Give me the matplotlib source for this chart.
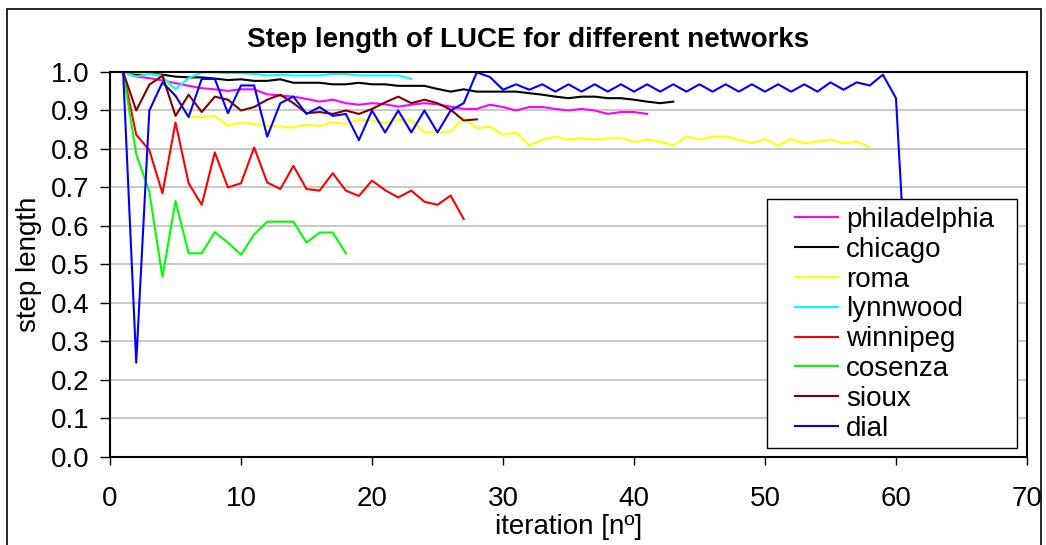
import numpy as np
import matplotlib
matplotlib.use('Agg')
import matplotlib.pyplot as plt
from matplotlib.patches import Rectangle

plt.rcParams['font.family'] = ['Liberation Sans', 'DejaVu Sans']

# step length per iteration (iteration 1, 2, ...)
philadelphia = [1.0, 0.988, 0.984, 0.978, 0.971, 0.964, 0.958, 0.955, 0.951, 0.955,
                0.955, 0.942, 0.939, 0.936, 0.930, 0.923, 0.928, 0.919, 0.915, 0.919,
                0.916, 0.910, 0.915, 0.919, 0.916, 0.910, 0.904, 0.904, 0.915, 0.909,
                0.900, 0.909, 0.909, 0.904, 0.900, 0.904, 0.900, 0.891, 0.896, 0.896,
                0.891]
chicago = [1.0, 0.993, 0.995, 0.993, 0.988, 0.986, 0.986, 0.983, 0.979, 0.981,
           0.977, 0.977, 0.981, 0.972, 0.972, 0.972, 0.968, 0.968, 0.972, 0.968,
           0.968, 0.964, 0.964, 0.964, 0.956, 0.949, 0.955, 0.949, 0.949, 0.949,
           0.949, 0.945, 0.941, 0.936, 0.932, 0.936, 0.936, 0.932, 0.932, 0.928,
           0.923, 0.919, 0.923]
roma = [1.0, 0.998, 0.995, 0.990, 0.940, 0.883, 0.883, 0.886, 0.860, 0.869,
        0.865, 0.860, 0.858, 0.856, 0.863, 0.860, 0.869, 0.865, 0.876, 0.874,
        0.867, 0.876, 0.874, 0.843, 0.843, 0.845, 0.880, 0.854, 0.858, 0.837,
        0.843, 0.809, 0.824, 0.832, 0.824, 0.828, 0.824, 0.828, 0.828, 0.819,
        0.824, 0.819, 0.809, 0.832, 0.824, 0.832, 0.832, 0.824, 0.815, 0.826,
        0.809, 0.826, 0.815, 0.819, 0.824, 0.815, 0.819, 0.805]
lynnwood = [1.0, 0.988, 0.995, 0.988, 0.955, 0.984, 0.999, 0.999, 0.997, 0.997,
            0.995, 0.991, 0.993, 0.991, 0.991, 0.991, 0.995, 0.995, 0.991, 0.991,
            0.991, 0.991, 0.982]
winnipeg = [1.0, 0.837, 0.797, 0.685, 0.869, 0.711, 0.655, 0.791, 0.700, 0.711,
            0.804, 0.713, 0.696, 0.756, 0.696, 0.692, 0.737, 0.692, 0.678, 0.718,
            0.693, 0.674, 0.692, 0.663, 0.655, 0.679, 0.618]
cosenza = [1.0, 0.787, 0.689, 0.468, 0.665, 0.529, 0.529, 0.584, 0.557, 0.525,
           0.578, 0.611, 0.611, 0.611, 0.557, 0.583, 0.583, 0.529]
sioux = [1.0, 0.900, 0.967, 0.990, 0.886, 0.941, 0.896, 0.936, 0.928, 0.900,
         0.909, 0.928, 0.941, 0.919, 0.893, 0.896, 0.891, 0.900, 0.891, 0.904,
         0.921, 0.936, 0.919, 0.928, 0.919, 0.902, 0.874, 0.877]
dial = [1.0, 0.245, 0.900, 0.973, 0.938, 0.883, 0.982, 0.982, 0.893, 0.965,
        0.965, 0.832, 0.919, 0.936, 0.891, 0.909, 0.886, 0.891, 0.823, 0.900,
        0.843, 0.900, 0.843, 0.900, 0.843, 0.900, 0.919, 0.999, 0.987, 0.954,
        0.968, 0.954, 0.968, 0.949, 0.968, 0.949, 0.968, 0.949, 0.968, 0.949,
        0.968, 0.949, 0.968, 0.949, 0.968, 0.949, 0.968, 0.949, 0.968, 0.949,
        0.968, 0.949, 0.968, 0.949, 0.973, 0.954, 0.973, 0.965, 0.993, 0.932,
        0.320]

names = ['philadelphia', 'chicago', 'roma', 'lynnwood', 'winnipeg', 'cosenza', 'sioux', 'dial']
series = [philadelphia, chicago, roma, lynnwood, winnipeg, cosenza, sioux, dial]
colors = ['#ff00ff', '#000000', '#ffff00', '#00ffff', '#ff0000', '#00ff00', '#800000', '#0000ff']

fig = plt.figure(figsize=(10.46, 5.45), dpi=100)
ax = fig.add_axes([0.1052, 0.1615, 0.8766, 0.7064])

for name, vals, c in zip(names, series, colors):
    it = np.arange(1, len(vals) + 1)
    ax.plot(it, vals, color=c, lw=1.5, label=name)

ax.set_xlim(0, 70)
ax.set_ylim(0, 1.0)
ax.set_xticks(range(0, 71, 10))
ax.set_yticks(np.arange(0, 1.01, 0.1))
ax.set_yticklabels(['%.1f' % v for v in np.arange(0, 1.01, 0.1)])
ax.yaxis.grid(True, color='#c0c0c0', lw=1.2)
ax.set_axisbelow(True)
for s in ax.spines.values():
    s.set_color('black')
    s.set_linewidth(1.5)
ax.tick_params(axis='both', labelsize=20, direction='out', width=1)
ax.tick_params(axis='y', length=7, pad=8)
ax.tick_params(axis='x', length=6, pad=15)

ax.set_title('Step length of LUCE for different networks', fontsize=20,
             fontweight='bold', pad=18, x=0.456)
ax.set_xlabel('iteration [nº]', fontsize=20, labelpad=1)
ax.set_ylabel('step length', fontsize=20, labelpad=6)

# legend box drawn separately so its padding matches the original
ax.add_patch(Rectangle((0.7165, 0.0234), 0.2726, 0.6467, transform=ax.transAxes,
                       facecolor='white', edgecolor='black', lw=1.0, zorder=4.5))
leg = ax.legend(loc='upper left', bbox_to_anchor=(0.747, 0.650), fontsize=20,
                frameon=False, handlelength=1.55, handletextpad=0.3,
                labelspacing=0.14, borderpad=0, borderaxespad=0)

# outer chart border
fig.patches.append(Rectangle((7 / 1046, -0.05), 1034 / 1046, 1.05 - 9 / 545,
                             transform=fig.transFigure, fill=False,
                             edgecolor='black', lw=1.2))

fig.savefig('out.png', dpi=100)
